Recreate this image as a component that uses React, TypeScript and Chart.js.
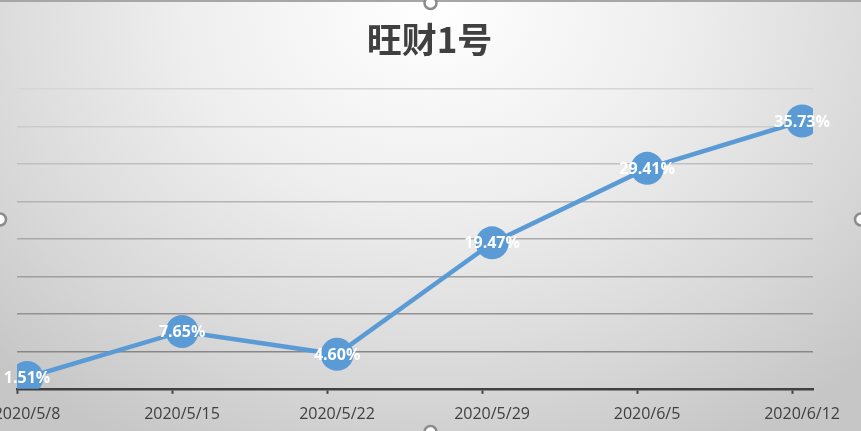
import { useEffect, useRef } from "react"
import { Chart, registerables, Plugin } from "chart.js"

Chart.register(...registerables)

const title = "旺财1号"
const categories = ["2020/5/8", "2020/5/15", "2020/5/22", "2020/5/29", "2020/6/5", "2020/6/12"]
const returns = [1.51, 7.65, 4.6, 19.47, 29.41, 35.73]
const yTicks = [0, 5, 10, 15, 20, 25, 30, 35, 40]

const lineBlue = "#5b9bd5"
const tickShift = 0.065

// grid lines get darker towards the bottom, like the Excel original
const gridColor = (value: number) => {
  if (value === 0) return "rgba(0,0,0,0)"
  const t = (value - 5) / 35
  const c = Math.round(135 + t * (214 - 135))
  return `rgb(${c},${c},${c})`
}

const dataLabels: Plugin<"line"> = {
  id: "dataLabels",
  afterDatasetsDraw(chart) {
    const { ctx } = chart
    const meta = chart.getDatasetMeta(0)
    ctx.save()
    ctx.font = "bold 16px 'Open Sans'"
    ctx.fillStyle = "#ffffff"
    ctx.textAlign = "center"
    ctx.textBaseline = "middle"
    meta.data.forEach((pt, i) => {
      ctx.fillText(returns[i].toFixed(2) + "%", pt.x, pt.y + 1)
    })
    ctx.restore()
  },
}

// title is centred on the whole canvas, not on the plot area
const titleText: Plugin<"line"> = {
  id: "titleText",
  afterDraw(chart) {
    const { ctx, width } = chart
    ctx.save()
    ctx.font = "bold 35px 'Noto Sans CJK SC'"
    ctx.fillStyle = "#404040"
    ctx.textAlign = "center"
    ctx.textBaseline = "middle"
    ctx.fillText(title, width / 2 - 1, 40)
    ctx.restore()
  },
}

const frame: Plugin<"line"> = {
  id: "frame",
  afterDraw(chart) {
    const { ctx, width, height } = chart
    ctx.save()
    ctx.strokeStyle = "#a6a6a6"
    ctx.lineWidth = 2
    ctx.beginPath()
    ctx.moveTo(0, 1)
    ctx.lineTo(width, 1)
    ctx.stroke()
    const handles = [
      [width / 2, 3],
      [0, height / 2 + 4],
      [width, height / 2 + 4],
      [width / 2, height + 1],
    ]
    ctx.fillStyle = "#ffffff"
    ctx.strokeStyle = "#8c8c8c"
    ctx.lineWidth = 2.5
    handles.forEach(([x, y]) => {
      ctx.beginPath()
      ctx.arc(x, y, 6, 0, Math.PI * 2)
      ctx.fill()
      ctx.stroke()
    })
    ctx.restore()
  },
}

export default function App() {
  const chartRef = useRef<HTMLCanvasElement>(null)
  const chartInstance = useRef<Chart | null>(null)

  useEffect(() => {
    if (!chartRef.current) return
    const ctx = chartRef.current.getContext("2d")
    if (!ctx) return
    if (chartInstance.current) chartInstance.current.destroy()

    chartInstance.current = new Chart(ctx, {
      type: "line",
      data: {
        datasets: [
          {
            data: returns.map((v, i) => ({ x: i, y: v })),
            borderColor: lineBlue,
            borderWidth: 4.5,
            backgroundColor: lineBlue,
            pointRadius: 16.5,
            pointBorderWidth: 0,
            pointBackgroundColor: lineBlue,
            tension: 0,
          },
        ],
      },
      options: {
        animation: false,
        responsive: true,
        maintainAspectRatio: false,
        layout: { padding: { left: 17, right: 48, top: 89, bottom: -4 } },
        scales: {
          x: {
            type: "linear",
            min: -tickShift,
            max: categories.length - 1 + 0.07,
            afterBuildTicks: (scale) => {
              scale.ticks = categories.map((_, i) => ({ value: i - tickShift }))
            },
            afterFit: (scale) => {
              scale.paddingLeft = 0
              scale.paddingRight = 0
            },
            border: { display: true, color: "#404040", width: 2.5 },
            grid: {
              drawOnChartArea: false,
              drawTicks: true,
              tickLength: 5,
              tickWidth: 2,
              tickColor: "#404040",
            },
            ticks: {
              autoSkip: false,
              maxRotation: 0,
              padding: 11,
              labelOffset: 10,
              color: "#404040",
              font: { family: "'Open Sans'", size: 16 },
              callback: (_v, i) => categories[i],
            },
          },
          y: {
            min: 0,
            max: 40,
            afterBuildTicks: (scale) => {
              scale.ticks = yTicks.map((v) => ({ value: v }))
            },
            border: { display: false },
            grid: {
              drawTicks: false,
              lineWidth: 1.6,
              color: (c) => gridColor(c.tick ? c.tick.value : 0),
            },
            ticks: { display: false },
          },
        },
        plugins: {
          legend: { display: false },
          tooltip: { enabled: false },
          title: { display: false },
        },
      },
      plugins: [dataLabels, titleText, frame],
    })

    return () => {
      if (chartInstance.current) {
        chartInstance.current.destroy()
        chartInstance.current = null
      }
    }
  }, [])

  return (
    <div
      style={{
        position: "absolute",
        left: 0,
        top: 0,
        width: "861px",
        height: "431px",
        background:
          "radial-gradient(ellipse 72% 115% at 50% 2%, #ffffff 0%, #eeeeee 40%, #d8d8d8 75%, #c6c6c6 100%)",
      }}
    >
      <canvas ref={chartRef}></canvas>
    </div>
  )
}
